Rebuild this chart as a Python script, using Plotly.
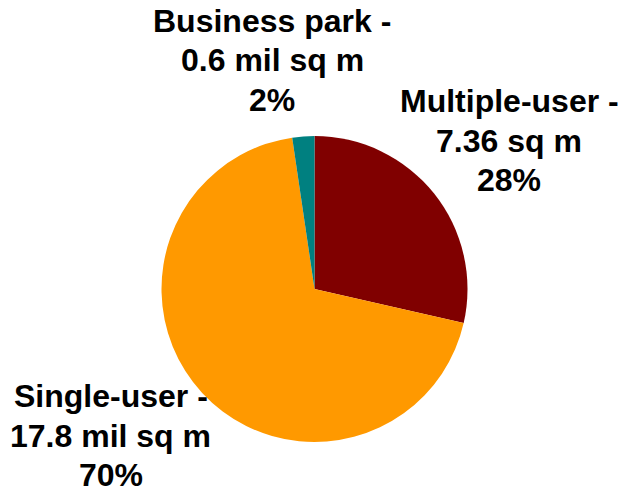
import plotly.graph_objects as go

# Floor space by park type
categories = ["Multiple-user", "Single-user", "Business park"]
values = [7.36, 17.8, 0.6]
value_text = ["7.36 sq m", "17.8 mil sq m", "0.6 mil sq m"]
pct_text = ["28%", "70%", "2%"]
colors = ["#800000", "#FF9900", "#008080"]

W, H = 618, 493
cx, cy, r = 314.5, 289, 153

fig = go.Figure()
fig.add_trace(go.Pie(
    labels=categories,
    values=values,
    sort=False,
    direction="clockwise",
    rotation=0,
    marker=dict(colors=colors, line=dict(width=0)),
    textinfo="none",
    hoverinfo="label+value+percent",
    domain=dict(x=[(cx - r) / W, (cx + r) / W],
                y=[(H - cy - r) / H, (H - cy + r) / H]),
))

# label positions in pixels: centre x, cap-top y of the first line
label_pos = {"Multiple-user": (509, 90), "Single-user": (110.5, 385), "Business park": (272, 10)}
line_pitch = 39.5

for cat, vt, pt in zip(categories, value_text, pct_text):
    px_x, px_y = label_pos[cat]
    for i, line in enumerate([cat + " -", vt, pt]):
        y_mid = px_y + 11 + i * line_pitch
        fig.add_annotation(
            x=px_x / W, y=1 - y_mid / H, xref="paper", yref="paper",
            xanchor="center", yanchor="middle", showarrow=False,
            text=f"<b>{line}</b>",
            font=dict(family="Liberation Sans, Arial", size=32, color="#000000"),
        )

fig.update_layout(
    width=W, height=H,
    margin=dict(l=0, r=0, t=0, b=0),
    showlegend=False,
    paper_bgcolor="white",
    plot_bgcolor="white",
    font=dict(family="Liberation Sans, Arial"),
)

fig.write_html("out.html", config={"displayModeBar": False},
               post_script="document.body.style.margin='0';")
